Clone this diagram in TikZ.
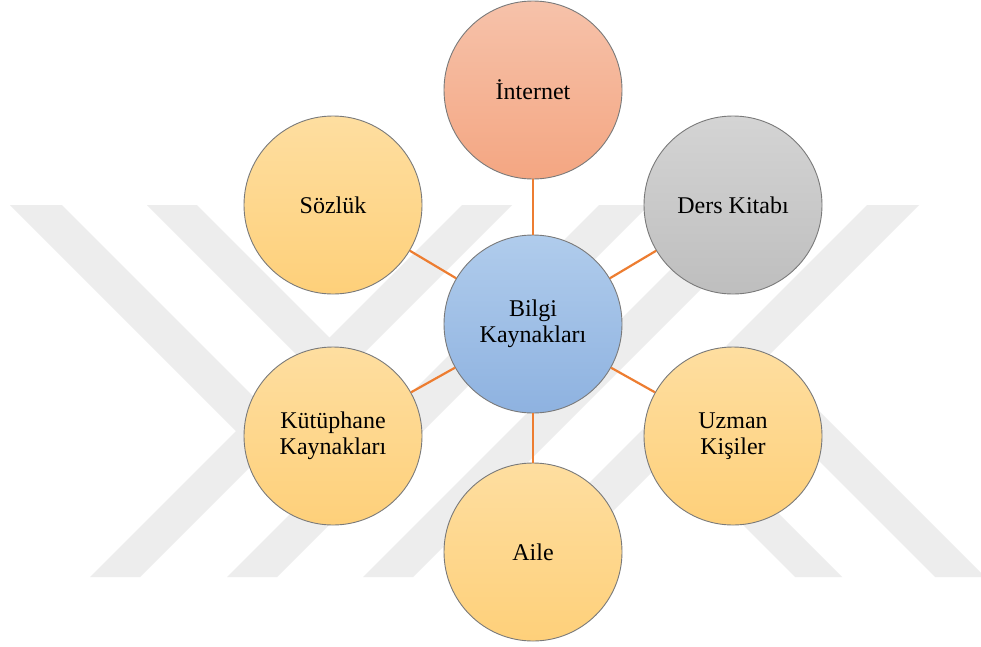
\documentclass[tikz,border=0pt]{standalone}
\usepackage{fontspec}
\setmainfont{Liberation Serif}
\definecolor{wm}{RGB}{237,237,237}
\definecolor{linkc}{RGB}{237,125,49}
\definecolor{yelT}{RGB}{254,222,160}
\definecolor{yelB}{RGB}{254,208,122}
\definecolor{redT}{RGB}{246,194,170}
\definecolor{redB}{RGB}{244,166,130}
\definecolor{gryT}{RGB}{212,212,212}
\definecolor{gryB}{RGB}{190,190,190}
\definecolor{bluT}{RGB}{176,204,236}
\definecolor{bluB}{RGB}{142,178,224}
\begin{document}
\begin{tikzpicture}[x=1pt,y=-1pt,
  bub/.style={circle, minimum size=178pt, inner sep=0pt, draw=black!52, line width=0.9pt,
    align=center, font=\fontsize{24}{26}\selectfont},
  yel/.style={bub, top color=yelT, bottom color=yelB},
  link/.style={draw=linkc, line width=2.2pt}]
\useasboundingbox (0,0) rectangle (981,646);
\fill[white] (0,0) rectangle (981,646);
% watermark
\begin{scope}
\clip (0,205) rectangle (981,577);
\fill[wm] (462,205) -- (512,205) -- (140,577) -- (90,577) -- cycle;
\fill[wm] (599,205) -- (649,205) -- (277,577) -- (227,577) -- cycle;
\fill[wm] (735,205) -- (785,205) -- (413,577) -- (363,577) -- cycle;
\fill[wm] (867,205) -- (919,205) -- (547,577) -- (495,577) -- cycle;
\fill[wm] (10,205) -- (62,205) -- (287,430) -- (261,456) -- cycle;
\fill[wm] (147,205) -- (197,205) -- (423,431) -- (398,456) -- cycle;
\fill[wm] (645,427) -- (668.5,403.5) -- (842,577) -- (795,577) -- cycle;
\fill[wm] (783.5,425.5) -- (808.5,400.5) -- (985,577) -- (935,577) -- cycle;
\end{scope}
% nodes
\node[bub, top color=bluT, bottom color=bluB] (c) at (533,324) {Bilgi\\Kaynakları};
\node[bub, top color=redT, bottom color=redB] (t) at (533,90) {İnternet};
\node[bub, top color=gryT, bottom color=gryB] (ur) at (733,205) {Ders Kitabı};
\node[yel] (lr) at (733,436) {Uzman\\Kişiler};
\node[yel] (b) at (533,552) {Aile};
\node[yel] (ll) at (333,436) {Kütüphane\\Kaynakları};
\node[yel] (ul) at (333,205) {Sözlük};
% connectors
\draw[link] (c) -- (t);
\draw[link] (c) -- (ur);
\draw[link] (c) -- (lr);
\draw[link] (c) -- (b);
\draw[link] (c) -- (ll);
\draw[link] (c) -- (ul);
\end{tikzpicture}
\end{document}
